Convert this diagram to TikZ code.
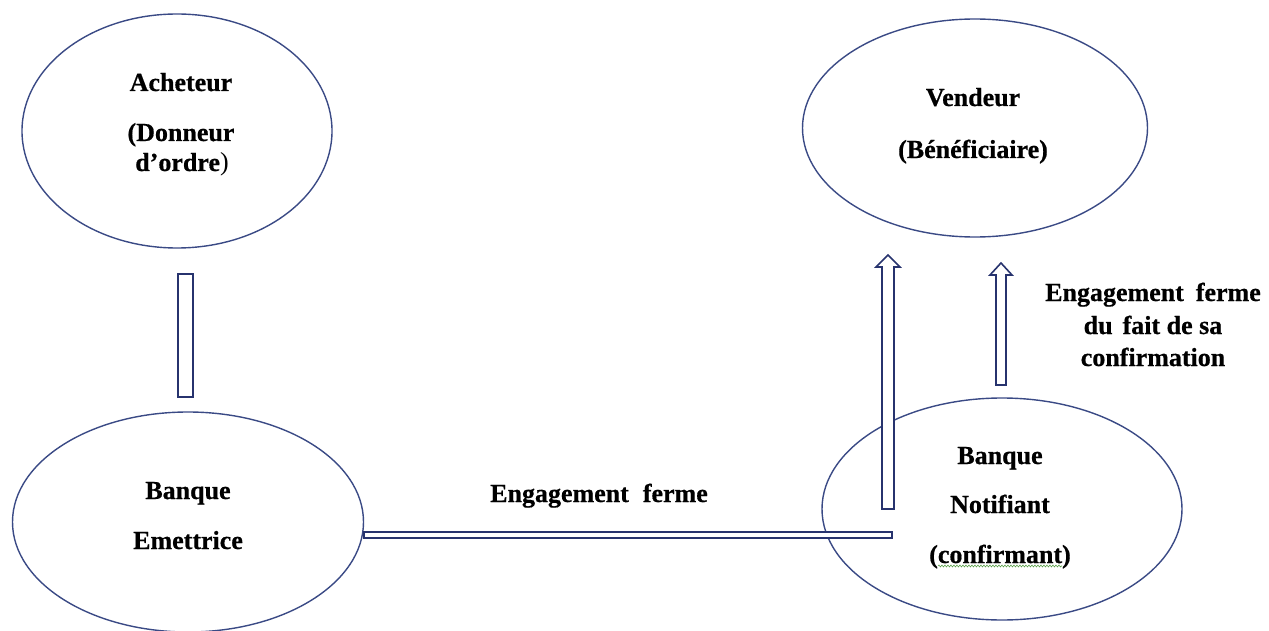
\documentclass[tikz,border=0pt]{standalone}
\usepackage{fontspec}
\setmainfont{Liberation Serif}[BoldFeatures={FakeBold=0.6}]
\usetikzlibrary{shapes.geometric,decorations.pathmorphing}

\definecolor{rim}{HTML}{3A4A85}
\definecolor{arrowline}{HTML}{27336E}
\definecolor{squiggle}{HTML}{5AA04A}

\begin{document}
\begin{tikzpicture}[x=1pt,y=-1pt,
  party/.style={draw=rim, line width=1.4pt, ellipse, inner sep=0pt},
  lbl/.style={font=\fontsize{26}{30}\selectfont\bfseries, inner sep=0pt, anchor=base},
  blk/.style={draw=arrowline, line width=1.6pt, fill=white, line join=miter}
]
\useasboundingbox (0,0) rectangle (1269,631);

% the four parties
\node[party, minimum width=310pt, minimum height=234pt] (ach) at (177,131) {};
\node[party, minimum width=345pt, minimum height=218pt] (ven) at (975,128) {};
\node[party, minimum width=351pt, minimum height=220pt] (emi) at (188,522) {};
\node[party, minimum width=360pt, minimum height=222pt] (not) at (1002,509) {};

% their labels
\node[lbl] (achA) at (181,91)  {Acheteur};
\node[lbl] (achB) at (181,141) {(Donneur};
\node[lbl] (achC) at (182,171) {d’ordre\mdseries)};

\node[lbl] (venA) at (973,106) {Vendeur};
\node[lbl] (venB) at (973,158) {(Bénéficiaire)};

\node[lbl] (emiA) at (188,499) {Banque};
\node[lbl] (emiB) at (188,549) {Emettrice};

\node[lbl] (notA) at (1000,464) {Banque};
\node[lbl] (notB) at (1000,513) {Notifiant};
\node[lbl] (notC) at (1000,563) {(confirmant)};

% flow labels
\node[lbl] (engA) at (599,502) {Engagement\hspace{14pt}ferme};
\node[lbl] (engB) at (1153,301) {Engagement\hspace{12pt}ferme};
\node[lbl] (engC) at (1153,334) {du\hspace{10pt}fait de sa};
\node[lbl] (engD) at (1153,366) {confirmation};

% spell-check squiggle under "confirmant"
\draw[squiggle, line width=0.6pt,
      decorate, decoration={snake, amplitude=0.9pt, segment length=3pt}]
  (938,566) -- (1062,566);

% link between buyer and issuing bank
\draw[blk] (178,274) rectangle (193,397);

% firm commitment bar from issuing to notifying bank
\draw[blk] (364,532) rectangle (892,538);

% tall block arrow towards the seller
\draw[blk] (882,509) -- (882,267) -- (876,267) -- (888,255)
  -- (900,267) -- (894,267) -- (894,509) -- cycle;

% short block arrow towards the seller
\draw[blk] (996,385) -- (996,275) -- (990,275) -- (1001,263)
  -- (1012,275) -- (1006,275) -- (1006,385) -- cycle;
\end{tikzpicture}
\end{document}
